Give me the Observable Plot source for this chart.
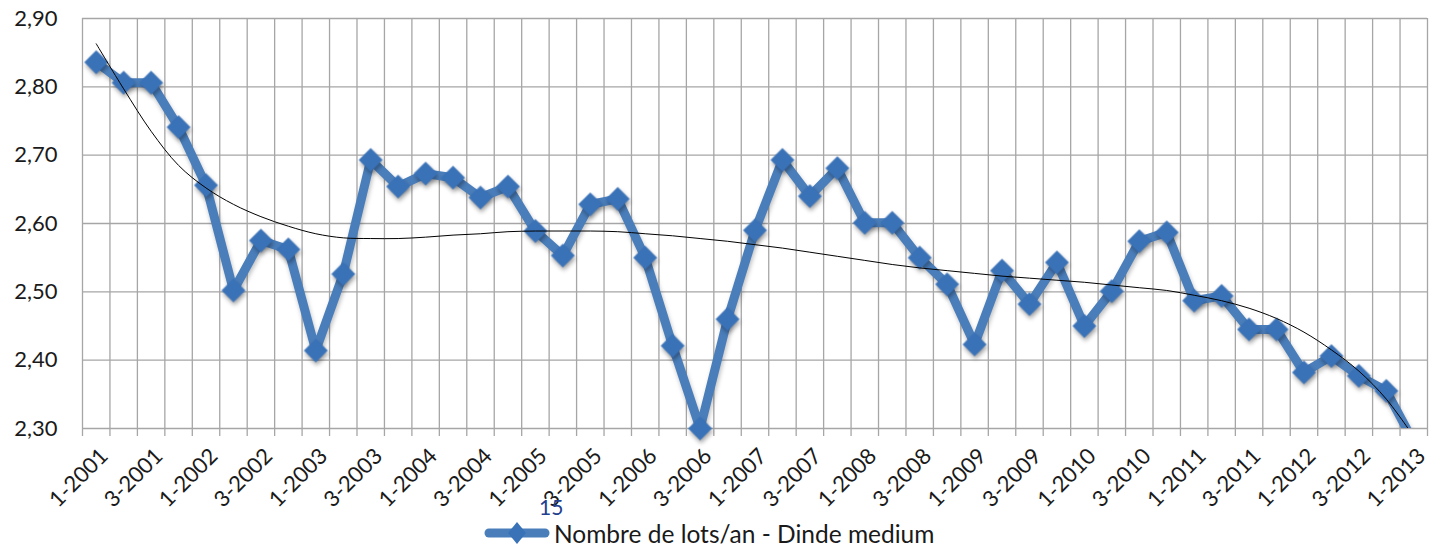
<!DOCTYPE html>
<html><head><meta charset="utf-8">
<script src="https://cdn.jsdelivr.net/npm/d3@7"></script>
<script src="https://cdn.jsdelivr.net/npm/@observablehq/plot@0.6"></script>
<style>
body{margin:0;background:#fff;}
#wrap{position:relative;width:1441px;height:549px;overflow:hidden;background:#fff;font-family:Lato,"Liberation Sans",sans-serif;}
#legend{position:absolute;left:484px;top:518px;height:30px;display:flex;align-items:center;color:#1a1a1a;font-size:24.5px;white-space:nowrap;}
#legend svg{margin-right:4px;}
#pagenum{position:absolute;left:539px;top:494px;color:#23408e;font-size:21px;}
</style></head><body><div id="wrap"></div>
<script>
const periods = [
 "1-2001","2-2001","3-2001","4-2001","1-2002","2-2002","3-2002","4-2002",
 "1-2003","2-2003","3-2003","4-2003","1-2004","2-2004","3-2004","4-2004",
 "1-2005","2-2005","3-2005","4-2005","1-2006","2-2006","3-2006","4-2006",
 "1-2007","2-2007","3-2007","4-2007","1-2008","2-2008","3-2008","4-2008",
 "1-2009","2-2009","3-2009","4-2009","1-2010","2-2010","3-2010","4-2010",
 "1-2011","2-2011","3-2011","4-2011","1-2012","2-2012","3-2012","4-2012",
 "1-2013"
];
const values = [
 2.836,2.806,2.806,2.741,2.656,2.502,2.575,2.562,
 2.414,2.526,2.693,2.654,2.673,2.667,2.638,2.654,
 2.589,2.553,2.628,2.636,2.550,2.421,2.300,2.460,
 2.590,2.693,2.640,2.681,2.601,2.601,2.550,2.511,
 2.423,2.531,2.482,2.543,2.450,2.501,2.574,2.587,
 2.487,2.494,2.445,2.445,2.382,2.406,2.377,2.355,
 2.280
];
const trend = [
 2.863,2.797,2.735,2.685,2.652,2.628,2.610,2.596,
 2.585,2.579,2.578,2.578,2.580,2.583,2.585,2.588,
 2.589,2.589,2.589,2.588,2.585,2.582,2.578,2.574,
 2.569,2.564,2.558,2.552,2.546,2.540,2.535,2.531,
 2.527,2.523,2.520,2.517,2.514,2.510,2.506,2.502,
 2.495,2.487,2.476,2.461,2.441,2.415,2.384,2.343,
 2.288
];
const yTicks = [2.30,2.40,2.50,2.60,2.70,2.80,2.90];
const seriesName = "Nombre de lots/an - Dinde medium";
const pageNumber = "15";

const data = periods.map((p,i)=>({i, period:p, value:values[i], trend:trend[i]}));
const boundaries = d3.range(periods.length+1).map(k=>k-0.5);
const labelIdx = d3.range(0, periods.length, 2);
const H = 505;
const FONT = 'Lato,"Liberation Sans",sans-serif';
const grid = "#a6a6a6";

const chart = Plot.plot({
  width:1441, height:H,
  marginLeft:82, marginRight:14, marginTop:18, marginBottom:H-428,
  style:{fontFamily:FONT, fontSize:"21px", color:"#1a1a1a", background:"#fff", overflow:"visible"},
  x:{domain:[-0.5, periods.length-0.5]},
  y:{domain:[2.3,2.9]},
  marks:[
    Plot.ruleY(yTicks,{stroke:grid, strokeWidth:1.3}),
    Plot.ruleX(boundaries,{stroke:grid, strokeWidth:1.3}),
    Plot.axisX(boundaries,{tickSize:8, tickFormat:()=>"", stroke:grid, strokeWidth:1.3, label:null}),
    Plot.axisX(labelIdx,{tickSize:0, tickPadding:24, dx:8, tickRotate:-45, tickFormat:i=>periods[i], fontSize:22, fill:"#1a1a1a", label:null}),
    Plot.axisY(yTicks,{tickSize:0, tickPadding:25, tickFormat:d=>d3.format(".2f")(d).replace(".",","), fontSize:22, fill:"#1a1a1a", label:null}),
    Plot.line(data,{x:"i", y:"value", stroke:"#4a7ebb", strokeWidth:9, strokeLinejoin:"round", clip:true}),
    Plot.dot(data,{filter:d=>d.value>=2.3, x:"i", y:"value", symbol:"diamond2", r:10.5, fill:"#3a72b8", stroke:"#3a72b8", strokeWidth:0.5}),
    Plot.line(data,{x:"i", y:"trend", stroke:"#000", strokeWidth:1, curve:"catmull-rom", clip:true})
  ]
});
d3.select(chart).selectAll('g[aria-label="dot"]').style("filter","drop-shadow(1px 3px 2px rgba(0,0,0,0.35))");
d3.select(chart).selectAll('g[aria-label="line"]').filter((d,k)=>k===0).style("filter","drop-shadow(1px 3px 2px rgba(0,0,0,0.25))");

const wrap = document.getElementById("wrap");
wrap.appendChild(chart);

const legend = document.createElement("div");
legend.id = "legend";
legend.innerHTML = `<svg width="66" height="30"><line x1="5" y1="15" x2="61" y2="15" stroke="#4a7ebb" stroke-width="9" stroke-linecap="round"/><path d="M33,4 L42,15 L33,26 L24,15 Z" fill="#3a72b8"/></svg><span></span>`;
legend.querySelector("span").textContent = seriesName;
wrap.appendChild(legend);

const pn = document.createElement("div");
pn.id = "pagenum";
pn.textContent = pageNumber;
wrap.appendChild(pn);
</script>
</body></html>
